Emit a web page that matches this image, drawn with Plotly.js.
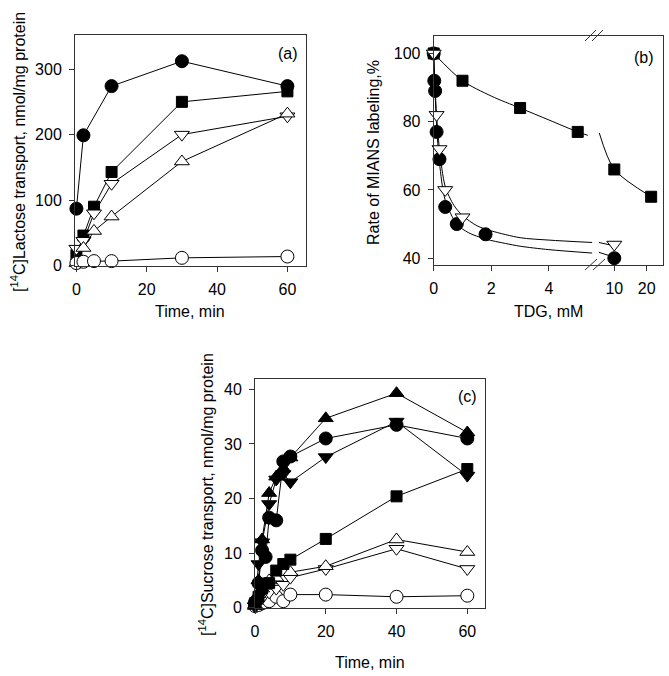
<!DOCTYPE html>
<html>
<head>
<meta charset="utf-8">
<script src="https://cdn.plot.ly/plotly-3.0.1.min.js"></script>
<style>html,body{margin:0;padding:0;background:#fff;}#chart{width:669px;height:676px;}</style>
</head>
<body>
<div id="chart"></div>
<script>
// ---------- Panel (a): lactose transport ----------
const aCircleTime = [0, 2, 10, 30, 60];
const aFilledCircle = [87, 199, 274, 312, 274];
const aTime = [0, 2, 5, 10, 30, 60];
const aFilledSquare = [16, 46, 90, 143, 250, 266];
const aOpenDown = [26, 38, 80, 125, 200, 228];
const aOpenUp = [4, 27, 53, 75, 159, 232];
const aOpenCircle = [4, 6, 7, 7, 12, 14];
const aXTicks = [0, 20, 40, 60];
const aYTicks = [0, 100, 200, 300];

// ---------- Panel (b): MIANS labeling vs TDG ----------
const bSquareTDG = [0, 1, 3, 5, 10, 22];
const bSquare = [100, 92, 84, 77, 66, 58];
const bCircleTDG = [0, 0.02, 0.05, 0.1, 0.2, 0.4, 0.8, 1.8, 10];
const bCircle = [100, 92, 89, 77, 69, 55, 50, 47, 40];
const bTriTDG = [0, 0.1, 0.2, 0.4, 1.0, 10];
const bTri = [100, 82, 72, 60, 52, 44];
// fitted curves (before and after the axis break)
const bSquareFitX = [0, 1, 2, 3, 4, 5, 5.35];
const bSquareFitY = [100, 92, 87.5, 84, 80.5, 77, 76];
const bSquareFit2X = [7.25, 10, 22];
const bSquareFit2Y = [76.7, 66, 58];
const bTriFitX = [0, 0.05, 0.1, 0.2, 0.4, 0.7, 1.0, 1.5, 2, 3, 4, 5.5];
const bTriFitY = [100, 90, 82, 72, 61, 55.5, 52.5, 49.5, 48, 46, 45.3, 44.6];
const bTriFit2X = [7.2, 10];
const bTriFit2Y = [44.6, 43.6];
const bCircFitX = [0, 0.05, 0.1, 0.2, 0.4, 0.8, 1.2, 1.8, 2.5, 3, 4, 5.5];
const bCircFitY = [100, 88, 79, 68, 57, 50, 47.5, 45.6, 44.3, 43.5, 42.5, 41.5];
const bCircFit2X = [7.2, 10];
const bCircFit2Y = [41.7, 40.3];
const bXTicksLeft = [0, 2, 4];
const bXTicksRight = [10, 20];
const bYTicks = [40, 60, 80, 100];

// ---------- Panel (c): sucrose transport ----------
const cTime = [0, 1, 2, 4, 6, 8, 10, 20, 40, 60];
const cCircleTime = [0, 1, 2, 3, 4, 6, 8, 10, 20, 40, 60];
const cFilledCircle = [1, 4.5, 10.5, 9.3, 16.5, 16, 26.8, 27.7, 31, 33.5, 31];
const cFilledUp = [0.5, 5, 12.5, 21, 24, 25.5, 27.5, 34.7, 39.3, 32.1];
const cFilledDown = [0.3, 8, 12, 19, 23.5, 24.5, 23, 27.6, 34.1, 24.2];
const cFilledSquare = [0.8, 2, 3.5, 4.5, 6.8, 8, 8.8, 12.6, 20.4, 25.4];
const cOpenUp = [0.3, 2.5, 3.5, 5, 5.5, 6.5, 6.5, 7.6, 12.5, 10.2];
const cOpenDown = [0.2, 1, 1.8, 2.8, 3.5, 4.2, 5.5, 7.1, 10.8, 7.1];
const cOpenCircle = [0.3, 0.5, 0.8, 1.2, 2.0, 1.2, 2.4, 2.4, 2.0, 2.2];
const cXTicks = [0, 20, 40, 60];
const cYTicks = [0, 10, 20, 30, 40];

// ---------- styling ----------
const W = 669, H = 676;
const FONT = 'Liberation Sans, Arial, sans-serif';
const px = p => p / W;
const py = p => 1 - p / H;
const LINE = {color: '#000', width: 1};
const M = {
  fc: {symbol: 'circle', size: 13, color: '#000', line: {color: '#000', width: 1}},
  fs: {symbol: 'square', size: 11, color: '#000', line: {color: '#000', width: 1}},
  fu: {symbol: 'triangle-up', size: 13, color: '#000', line: {color: '#000', width: 1}},
  fd: {symbol: 'triangle-down', size: 13, color: '#000', line: {color: '#000', width: 1}},
  od: {symbol: 'triangle-down', size: 13, color: '#fff', line: {color: '#000', width: 1}},
  ou: {symbol: 'triangle-up', size: 13, color: '#fff', line: {color: '#000', width: 1}},
  oc: {symbol: 'circle', size: 13, color: '#fff', line: {color: '#000', width: 1}}
};
function lm(x, y, mk, xa, ya) {
  return {x: x, y: y, mode: 'lines+markers', line: LINE, marker: mk, xaxis: xa, yaxis: ya, cliponaxis: false, showlegend: false, hoverinfo: 'x+y'};
}
function ln(x, y, xa, ya) {
  return {x: x, y: y, mode: 'lines', line: {color: '#000', width: 1, shape: 'spline', smoothing: 0.8}, xaxis: xa, yaxis: ya, cliponaxis: false, showlegend: false, hoverinfo: 'skip'};
}
function mk(x, y, m, xa, ya) {
  return {x: x, y: y, mode: 'markers', marker: m, xaxis: xa, yaxis: ya, cliponaxis: false, showlegend: false};
}

const traces = [
  // (a)
  lm(aCircleTime, aFilledCircle, M.fc, 'x', 'y'),
  lm(aTime, aFilledSquare, M.fs, 'x', 'y'),
  lm(aTime, aOpenDown, M.od, 'x', 'y'),
  lm(aTime, aOpenUp, M.ou, 'x', 'y'),
  lm(aTime, aOpenCircle, M.oc, 'x', 'y'),
  // (b) fitted curves
  ln(bSquareFitX, bSquareFitY, 'x2', 'y2'),
  ln(bTriFitX, bTriFitY, 'x2', 'y2'),
  ln(bCircFitX, bCircFitY, 'x2', 'y2'),
  ln(bSquareFit2X, bSquareFit2Y, 'x3', 'y3'),
  ln(bTriFit2X, bTriFit2Y, 'x3', 'y3'),
  ln(bCircFit2X, bCircFit2Y, 'x3', 'y3'),
  // (b) markers: left of the break
  mk(bSquareTDG.filter(v => v < 6), bSquare.filter((v, i) => bSquareTDG[i] < 6), M.fs, 'x2', 'y2'),
  mk(bCircleTDG.filter(v => v < 6), bCircle.filter((v, i) => bCircleTDG[i] < 6), M.fc, 'x2', 'y2'),
  mk(bTriTDG.filter(v => v < 6), bTri.filter((v, i) => bTriTDG[i] < 6), M.od, 'x2', 'y2'),
  // (b) markers: right of the break
  mk(bSquareTDG.filter(v => v >= 6), bSquare.filter((v, i) => bSquareTDG[i] >= 6), M.fs, 'x3', 'y3'),
  mk(bCircleTDG.filter(v => v >= 6), bCircle.filter((v, i) => bCircleTDG[i] >= 6), M.fc, 'x3', 'y3'),
  mk(bTriTDG.filter(v => v >= 6), bTri.filter((v, i) => bTriTDG[i] >= 6), M.od, 'x3', 'y3'),
  // (c)
  lm(cTime, cOpenCircle, M.oc, 'x4', 'y4'),
  lm(cTime, cOpenDown, M.od, 'x4', 'y4'),
  lm(cTime, cOpenUp, M.ou, 'x4', 'y4'),
  lm(cTime, cFilledSquare, M.fs, 'x4', 'y4'),
  lm(cTime, cFilledDown, M.fd, 'x4', 'y4'),
  lm(cCircleTime, cFilledCircle, M.fc, 'x4', 'y4'),
  lm(cTime, cFilledUp, M.fu, 'x4', 'y4')
];

const TICKF = {family: FONT, size: 16, color: '#000'};
function axis(extra) {
  return Object.assign({
    showline: true, linecolor: '#333', linewidth: 1, mirror: true,
    ticks: 'outside', ticklen: 5, tickwidth: 1, tickcolor: '#333',
    showgrid: false, zeroline: false, tickfont: TICKF, tickmode: 'array',
    ticklabelstandoff: 4, fixedrange: true
  }, extra);
}

const slash = (x0, y0, x1, y1) => ({type: 'line', xref: 'paper', yref: 'paper', x0: px(x0), y0: py(y0), x1: px(x1), y1: py(y1), line: {color: '#333', width: 1}});
const ann = (text, x, y, angle) => ({text: text, x: px(x), y: py(y), xref: 'paper', yref: 'paper', showarrow: false, xanchor: 'center', yanchor: 'middle', textangle: angle || 0, font: {family: FONT, size: 16, color: '#000'}});

const layout = {
  width: W, height: H,
  margin: {l: 0, r: 0, t: 0, b: 0},
  paper_bgcolor: '#fff', plot_bgcolor: '#fff',
  font: {family: FONT, size: 16, color: '#000'},
  showlegend: false,
  xaxis: axis({domain: [px(75), px(305.7)], range: [-0.4, 65.2], anchor: 'y', tickvals: aXTicks}),
  yaxis: axis({domain: [py(265.7), py(35)], range: [0, 352], anchor: 'x', tickvals: aYTicks}),
  xaxis2: axis({domain: [px(433.7), px(593)], range: [0, 5.53], anchor: 'y2', tickvals: bXTicksLeft}),
  yaxis2: axis({domain: [py(265), py(35.7)], range: [38, 105.2], anchor: 'x2', tickvals: bYTicks, mirror: false}),
  xaxis3: axis({domain: [px(593), px(663.3)], type: 'log', range: [0.802, 1.4553], anchor: 'y3', tickvals: bXTicksRight, ticktext: bXTicksRight.map(String)}),
  yaxis3: axis({domain: [py(265), py(35.7)], range: [38, 105.2], anchor: 'x3', side: 'right', ticks: '', showticklabels: false, mirror: false, tickvals: []}),
  xaxis4: axis({domain: [px(255), px(485)], range: [0, 65], anchor: 'y4', tickvals: cXTicks}),
  yaxis4: axis({domain: [py(607.7), py(379)], range: [0, 41.9], anchor: 'x4', tickvals: cYTicks}),
  shapes: [
    slash(585, 41, 596, 30), slash(592, 41, 603, 30),
    slash(585, 270, 597, 259), slash(593, 270, 605, 259)
  ],
  annotations: [
    ann('[<sup>14</sup>C]Lactose transport, nmol/mg protein', 18, 152, -90),
    ann('Time, min', 190, 311),
    ann('(a)', 288, 53),
    ann('Rate of MIANS labeling,%', 373, 153, -90),
    ann('TDG, mM', 548, 311),
    ann('(b)', 644, 58),
    ann('[<sup>14</sup>C]Sucrose transport, nmol/mg protein', 206, 495, -90),
    ann('Time, min', 370, 662),
    ann('(c)', 467.5, 396)
  ]
};

Plotly.newPlot('chart', traces, layout, {staticPlot: true, displayModeBar: false});
</script>
</body>
</html>
